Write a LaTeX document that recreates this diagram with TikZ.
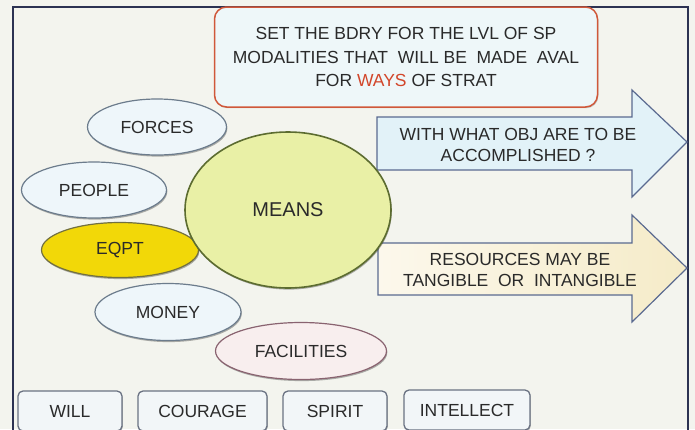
\documentclass[tikz,border=0pt]{standalone}
\usepackage{fontspec}
\setmainfont{Liberation Sans}
\usetikzlibrary{shapes.geometric, shadows}

\definecolor{paper}{HTML}{F3F4EE}
\definecolor{frameline}{HTML}{2C3252}
\definecolor{ink}{HTML}{2A2A2A}
\definecolor{waysred}{HTML}{D2462A}
\definecolor{noteline}{HTML}{D0583A}
\definecolor{notefill}{HTML}{EEF7F9}
\definecolor{bubbleline}{HTML}{6C7C8C}
\definecolor{bubblefill}{HTML}{EEF6FA}
\definecolor{eqptfill}{HTML}{F2D808}
\definecolor{eqptline}{HTML}{727040}
\definecolor{meansfill}{HTML}{E9F0A6}
\definecolor{meansline}{HTML}{5C6C30}
\definecolor{facfill}{HTML}{F8EEEE}
\definecolor{arrowline}{HTML}{5A6A90}
\definecolor{askfill}{HTML}{E2F2F8}
\definecolor{resleft}{HTML}{FCF8EC}
\definecolor{resright}{HTML}{F5EBC8}
\definecolor{tagline}{HTML}{6A7282}
\definecolor{tagfill}{HTML}{F2F6F8}

\begin{document}
\begin{tikzpicture}[x=1pt, y=-1pt,
    bubble/.style={ellipse, draw=bubbleline, line width=1.2pt, fill=bubblefill, inner sep=0pt,
        text=ink, font=\fontsize{17.5}{21}\selectfont,
        drop shadow={shadow xshift=0.8pt, shadow yshift=-1.6pt, fill=black, opacity=0.3}},
    tag/.style={rectangle, rounded corners=5pt, draw=tagline, line width=1.3pt, fill=tagfill,
        inner sep=0pt, minimum height=40, text=ink, font=\fontsize{17.5}{21}\selectfont,
        drop shadow={shadow xshift=0.8pt, shadow yshift=-1.2pt, fill=black, opacity=0.25}},
    bigarrow/.style={draw=arrowline, line width=1.2pt, line join=miter},
    arrowtext/.style={align=center, text=ink, font=\fontsize{17.5}{20.5}\selectfont}
]
\clip (0,0) rectangle (695,429);
\fill[paper] (0,0) rectangle (695,429);

% outer frame, open at the bottom
\draw[frameline, line width=2pt] (13,432) -- (13,7) -- (688,7) -- (688,432);

% note at the top
\node[rectangle, rounded corners=12pt, draw=noteline, line width=1.5pt, fill=notefill,
      minimum width=383, minimum height=100, align=center, text=ink,
      font=\fontsize{17.5}{23.5}\selectfont,
      drop shadow={shadow xshift=0.8pt, shadow yshift=-1.2pt, fill=black, opacity=0.2}]
      (bdry) at (406,57)
      {SET THE BDRY FOR THE LVL OF SP\\
       MODALITIES THAT\ \ WILL BE\ \ MADE\ \ AVAL\\
       FOR \textcolor{waysred}{WAYS} OF STRAT};

% block arrows on the right
\draw[bigarrow, fill=askfill] (377,117) -- (632,117) -- (632,90) -- (687,142)
    -- (632,197) -- (632,170) -- (377,170) -- cycle;
\node[arrowtext] (askobj) at (518,145) {WITH WHAT OBJ ARE TO BE\\ACCOMPLISHED ?};

\draw[bigarrow, left color=resleft, right color=resright]
    (378,243) -- (632,243) -- (632,215) -- (687,268)
    -- (632,322) -- (632,295) -- (378,295) -- cycle;
\node[arrowtext] (resources) at (520,270) {RESOURCES MAY BE\\TANGIBLE\ \ OR\ \ INTANGIBLE};

% the means and what they are made of
\node[bubble, minimum width=139, minimum height=56] (forces) at (157,127) {FORCES};
\node[bubble, minimum width=145, minimum height=56] (people) at (94,190) {PEOPLE};
\node[bubble, fill=eqptfill, draw=eqptline, minimum width=157, minimum height=55] (eqpt) at (120,250) {EQPT};
\node[bubble, fill=meansfill, draw=meansline, line width=1.6pt, minimum width=206, minimum height=156,
      font=\fontsize{20}{24}\selectfont] (means) at (288,210) {\raisebox{-3pt}{MEANS}};
\node[bubble, minimum width=146, minimum height=57] (money) at (168,312) {MONEY};
\node[bubble, fill=facfill, draw=bubbleline!80!red, minimum width=171, minimum height=57] (facilities) at (301,351) {FACILITIES};

% row of tags along the bottom
\node[tag, minimum width=104] (will) at (70,411) {WILL};
\node[tag, minimum width=129] (courage) at (202.5,411) {COURAGE};
\node[tag, minimum width=104] (spirit) at (335,411) {SPIRIT};
\node[tag, minimum width=126] (intellect) at (467,410) {INTELLECT};
\end{tikzpicture}
\end{document}
